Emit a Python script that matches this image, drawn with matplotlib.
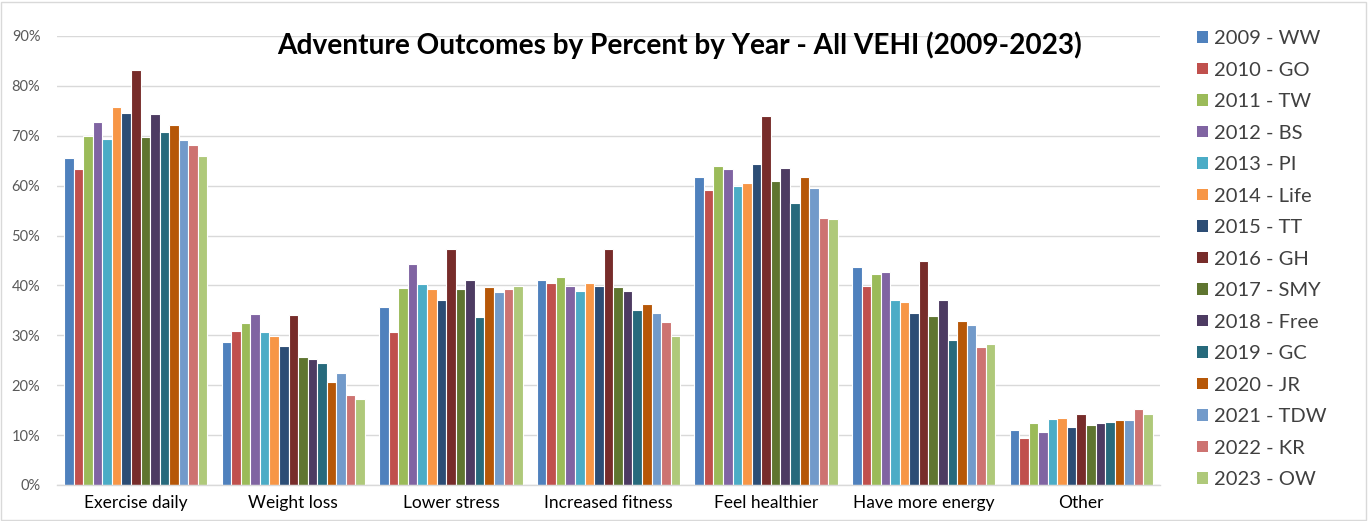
import matplotlib
matplotlib.use("Agg")
import matplotlib.pyplot as plt
import numpy as np
from matplotlib.patches import Rectangle, Patch
from matplotlib.ticker import FuncFormatter, MultipleLocator

categories = ["Exercise daily", "Weight loss", "Lower stress", "Increased fitness",
              "Feel healthier", "Have more energy", "Other"]
series_names = ["2009 - WW", "2010 - GO", "2011 - TW", "2012 - BS", "2013 - PI",
                "2014 - Life", "2015 - TT", "2016 - GH", "2017 - SMY", "2018 - Free",
                "2019 - GC", "2020 - JR", "2021 - TDW", "2022 - KR", "2023 - OW"]

# values in percent, one list per category (in series order)
exercise_daily = [65.5, 63.3, 70.0, 72.7, 69.4, 75.8, 74.6, 83.2, 69.7, 74.3, 70.7, 72.1, 69.1, 68.2, 66.0]
weight_loss = [28.7, 30.9, 32.5, 34.3, 30.7, 29.9, 27.9, 34.1, 25.6, 25.2, 24.4, 20.6, 22.4, 18.0, 17.2]
lower_stress = [35.6, 30.7, 39.5, 44.3, 40.3, 39.3, 37.0, 47.4, 39.2, 41.0, 33.7, 39.7, 38.6, 39.3, 39.8]
increased_fitness = [41.1, 40.4, 41.6, 39.8, 38.9, 40.4, 39.8, 47.4, 39.6, 38.9, 35.1, 36.3, 34.4, 32.6, 29.9]
feel_healthier = [61.7, 59.1, 63.9, 63.3, 59.9, 60.6, 64.3, 73.9, 60.9, 63.6, 56.5, 61.8, 59.5, 53.6, 53.4]
more_energy = [43.7, 39.9, 42.3, 42.6, 37.1, 36.7, 34.4, 44.8, 33.8, 37.0, 29.1, 32.8, 32.0, 27.7, 28.3]
other = [11.0, 9.4, 12.4, 10.6, 13.2, 13.5, 11.7, 14.2, 12.0, 12.4, 12.6, 13.0, 13.0, 15.2, 14.2]

colors = ["#4F81BD", "#C0504D", "#9BBB59", "#8064A2", "#4BACC6", "#F79646",
          "#2C4D75", "#772C2A", "#5F7530", "#4D3B62", "#276A7C", "#B65708",
          "#729ACA", "#CD7371", "#AFC97A"]

data = np.array([exercise_daily, weight_loss, lower_stress, increased_fitness,
                 feel_healthier, more_energy, other]) / 100.0

W, H = 1368, 521
fig = plt.figure(figsize=(W / 100, H / 100), dpi=100)
fig.patch.set_facecolor("white")
fig.patches.append(Rectangle((1 / W, 1 / H), 1 - 3 / W, 1 - 3 / H, transform=fig.transFigure,
                             fill=False, edgecolor="#D9D9D9", linewidth=1.0))

ax_l, ax_r, ax_b, ax_t = 57, 1160, 485, 36
ax = fig.add_axes([ax_l / W, 1 - ax_b / H, (ax_r - ax_l) / W, (ax_b - ax_t) / H])

plt.rcParams['font.family'] = ['Lato', 'DejaVu Sans']
n_cat = len(categories)
n_ser = len(series_names)
slot = 0.91 / n_ser
x = np.arange(n_cat)
for i in range(n_ser):
    offs = (i - (n_ser - 1) / 2) * slot
    ax.bar(x + offs, data[:, i], width=slot, color=colors[i], edgecolor="white",
           linewidth=0.8, label=series_names[i], zorder=3)

ax.set_xlim(-0.5, n_cat - 0.5)
ax.set_ylim(0, 0.9)
ax.yaxis.set_major_locator(MultipleLocator(0.1))
ax.yaxis.set_major_formatter(FuncFormatter(lambda v, p: f"{round(v * 100):d}%"))
ax.grid(axis="y", color="#D9D9D9", linewidth=1.0, zorder=0)
ax.set_axisbelow(True)
for s in ["top", "right", "left"]:
    ax.spines[s].set_visible(False)
ax.spines["bottom"].set_color("#D9D9D9")
ax.spines["bottom"].set_linewidth(1.0)
ax.spines["bottom"].set_zorder(4)
ax.tick_params(axis="both", length=0, colors="#595959")
ax.tick_params(axis="y", labelsize=10.5, pad=12)
ax.tick_params(axis="x", labelsize=12.5, pad=7)
ax.set_xticks(x)
ax.set_xticklabels(categories, family=['Lato', 'DejaVu Sans'])
for lbl in ax.get_yticklabels():
    lbl.set_family(['Lato', 'DejaVu Sans'])
for lbl in ax.get_xticklabels():
    lbl.set_color("#000000")

fig.text(680 / W, 1 - 45 / H, "Adventure Outcomes by Percent by Year - All VEHI (2009-2023)",
         ha="center", va="center", fontsize=20.2, fontweight="bold", color="#000000",
         family=['Lato', 'DejaVu Sans'])

handles = [Patch(facecolor=c, edgecolor="none") for c in colors]
leg = fig.legend(handles, series_names, loc="upper left", bbox_to_anchor=(1189 / W, 1 - 22 / H),
                 frameon=False, fontsize=14.5, labelspacing=0.72, handlelength=0.52,
                 handleheight=0.52, handletextpad=0.3, borderaxespad=0)
for t in leg.get_texts():
    t.set_color("#404040")
    t.set_family(['Lato', 'DejaVu Sans'])

fig.savefig("out.png", dpi=100, facecolor="white")
